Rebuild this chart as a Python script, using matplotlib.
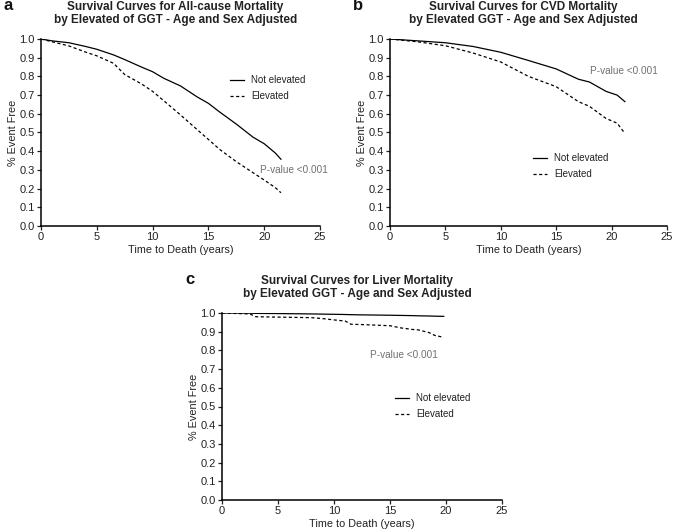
import matplotlib
matplotlib.use("Agg")
import matplotlib.pyplot as plt

plt.rcParams['font.family'] = ['Liberation Sans', 'DejaVu Sans']

# panel a - all-cause mortality
a_t = [0, 1, 2.5, 4, 5, 6.5, 7.5, 9, 10, 11, 12.5, 14, 15, 16, 17.5, 19, 20, 21, 21.5]
a_not = [1.0, 0.99, 0.98, 0.96, 0.945, 0.915, 0.89, 0.85, 0.825, 0.79, 0.749, 0.69, 0.656, 0.61, 0.545, 0.475, 0.44, 0.39, 0.357]
a_elev = [1.0, 0.985, 0.963, 0.93, 0.91, 0.87, 0.81, 0.76, 0.72, 0.67, 0.594, 0.515, 0.463, 0.41, 0.344, 0.285, 0.246, 0.205, 0.178]

# panel b - CVD mortality
b_t = [0, 2.5, 5, 7.5, 10, 12.5, 15, 17, 18, 19.5, 20.5, 21.2]
b_not = [1.0, 0.99, 0.98, 0.96, 0.929, 0.885, 0.84, 0.785, 0.77, 0.72, 0.70, 0.665]
b_elev = [1.0, 0.985, 0.964, 0.925, 0.877, 0.80, 0.745, 0.665, 0.64, 0.575, 0.55, 0.495]

# panel c - liver mortality
c_t = [0, 2.5, 3, 5, 8, 9, 10, 11, 11.5, 12.5, 15, 16, 17, 17.5, 18.5, 19, 19.8]
c_not = [1.0, 0.999, 0.998, 0.997, 0.995, 0.994, 0.993, 0.992, 0.991, 0.99, 0.988, 0.987, 0.986, 0.985, 0.984, 0.983, 0.982]
c_elev = [1.0, 0.995, 0.98, 0.978, 0.975, 0.97, 0.963, 0.957, 0.94, 0.938, 0.932, 0.92, 0.912, 0.91, 0.895, 0.88, 0.87]

panels = [
    ("a", ["Survival Curves for All-cause Mortality", "by Elevated of GGT - Age and Sex Adjusted"],
     a_t, a_not, a_elev, [41, 39, 320, 226], (230, 80), (260, 170)),
    ("b", ["Survival Curves for CVD Mortality", "by Elevated GGT - Age and Sex Adjusted"],
     b_t, b_not, b_elev, [390, 39, 667, 226], (533, 158), (590, 71)),
    ("c", ["Survival Curves for Liver Mortality", "by Elevated GGT - Age and Sex Adjusted"],
     c_t, c_not, c_elev, [222, 313, 502, 500], (395, 398), (370, 355)),
]

W, H = 675, 532
fig = plt.figure(figsize=(W / 100, H / 100), dpi=100)

for letter, title, t, s_not, s_elev, box, leg, pv in panels:
    x0, y0, x1, y1 = box
    ax = fig.add_axes([x0 / W, (H - y1) / H, (x1 - x0) / W, (y1 - y0) / H])
    ax.plot(t, s_not, color='black', lw=0.9)
    ax.plot(t, s_elev, color='black', lw=0.9, linestyle=(0, (2.5, 2)))
    ax.set_xlim(0, 25)
    ax.set_ylim(0, 1.0)
    ax.set_xticks([0, 5, 10, 15, 20, 25])
    ax.set_yticks([i / 10 for i in range(11)])
    ax.set_yticklabels(["%.1f" % (i / 10) for i in range(11)])
    ax.spines['top'].set_visible(False)
    ax.spines['right'].set_visible(False)
    ax.spines['left'].set_linewidth(1.1)
    ax.spines['bottom'].set_linewidth(1.1)
    ax.tick_params(direction='out', length=3, width=0.9, labelsize=8, pad=1.5, colors='#222222')
    ax.set_xlabel("Time to Death (years)", fontsize=7.8, labelpad=2, color='#222222')
    ax.set_ylabel("% Event Free", fontsize=7.8, color='#222222')
    ax.yaxis.set_label_coords(-23 / (x1 - x0), 0.5)

    # titles and panel letter
    cx = (x0 + x1) / 2 - 5
    fig.text(cx / W, 1 - (y0 - 32) / H, title[0], ha='center', va='center',
             fontsize=8.5, fontweight='bold', color='#222222')
    fig.text(cx / W, 1 - (y0 - 19) / H, title[1], ha='center', va='center',
             fontsize=8.5, fontweight='bold', color='#222222')
    fig.text((x0 - 37) / W, 1 - (y0 - 33) / H, letter, ha='left', va='center',
             fontsize=12, fontweight='bold', color='#111111')

    # legend drawn as text + short lines
    lx, ly = leg
    fig.lines.append(plt.Line2D([lx / W, (lx + 14) / W], [1 - ly / H, 1 - ly / H],
                                color='black', lw=0.9, transform=fig.transFigure))
    fig.lines.append(plt.Line2D([lx / W, (lx + 14) / W], [1 - (ly + 16) / H, 1 - (ly + 16) / H],
                                color='black', lw=0.9, linestyle=(0, (2.5, 2)), transform=fig.transFigure))
    fig.text((lx + 21) / W, 1 - ly / H, "Not elevated", ha='left', va='center', fontsize=7, color='#222222')
    fig.text((lx + 21) / W, 1 - (ly + 16) / H, "Elevated", ha='left', va='center', fontsize=7, color='#222222')

    fig.text(pv[0] / W, 1 - pv[1] / H, "P-value <0.001", ha='left', va='center', fontsize=7.2, color='#707070')

fig.savefig("out.png", dpi=100)
